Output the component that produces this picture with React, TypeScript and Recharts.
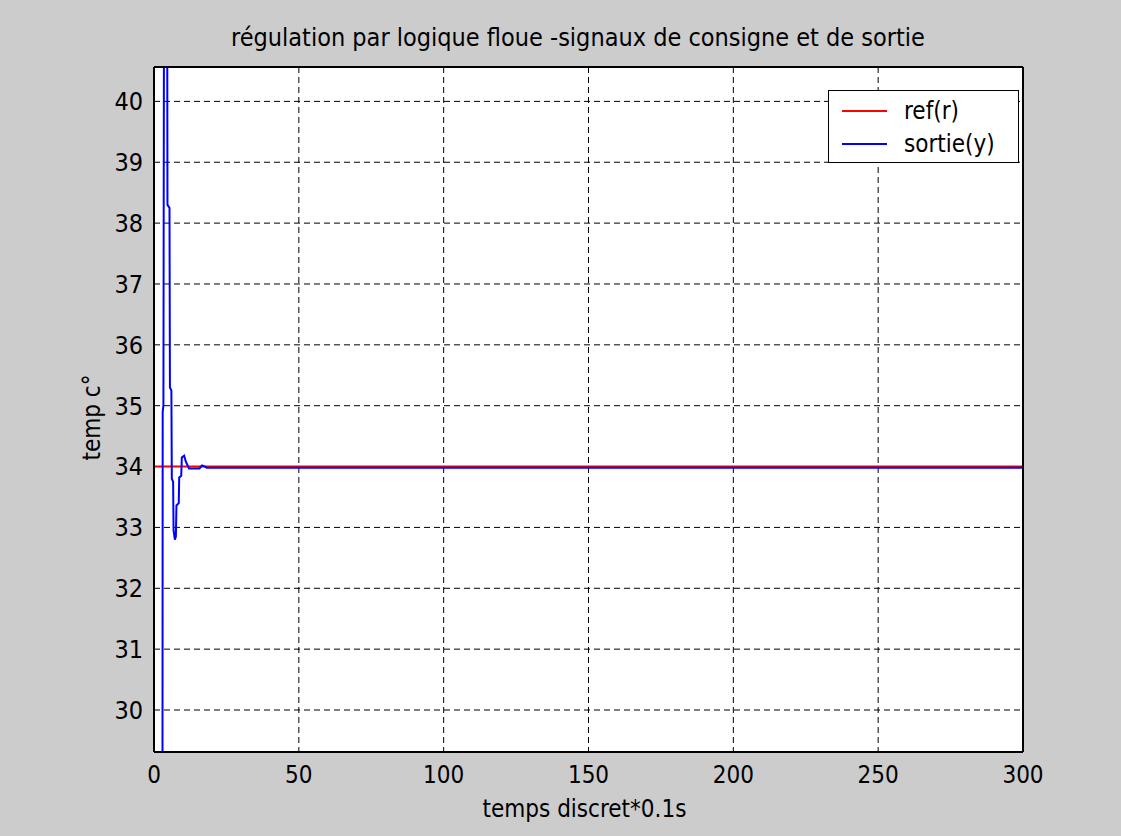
import React from "react"
import {
  LineChart,
  Line,
  XAxis,
  YAxis,
  CartesianGrid,
  Legend,
} from "recharts"

const FONT = "'Liberation Sans Narrow', 'Arial Narrow', 'DejaVu Sans Condensed', sans-serif"

const xTicks = [0, 50, 100, 150, 200, 250, 300]
const yTicks = [30, 31, 32, 33, 34, 35, 36, 37, 38, 39, 40]
const yDomain = [29.31, 40.565]

// consigne
const refTime = [0, 300]
const refValue = [34, 34]

// sortie
const sortieTime = [
  0, 2.6, 3.0, 3.25, 4.0, 4.65, 5.35, 5.5, 6.0, 6.15, 6.6, 6.75, 7.2, 7.55,
  7.75, 8.55, 8.7, 9.4, 9.6, 10.4, 11.0, 12.1, 15.7, 16.6, 17.6, 18.2, 300,
]
const sortieValue = [
  0, 0, 34.9, 35.0, 60, 38.3, 38.25, 35.3, 35.25, 33.8, 33.75, 32.95, 32.8,
  32.85, 33.36, 33.4, 33.82, 33.85, 34.15, 34.18, 34.08, 33.97, 33.97, 34.02,
  34.0, 33.98, 33.98,
]

const refData = refTime.map((t, i) => ({ t, v: refValue[i] }))
const sortieData = sortieTime.map((t, i) => ({ t, v: sortieValue[i] }))

function LegendBox({ payload }: any) {
  if (!payload) return null
  return (
    <div
      style={{
        width: 189,
        height: 71,
        background: "#fff",
        border: "1px solid #000",
        position: "relative",
        fontFamily: FONT,
        fontSize: 24,
        color: "#000",
      }}
    >
      {payload.map((entry: any, i: number) => (
        <div
          key={i}
          style={{
            position: "absolute",
            left: 0,
            top: 4 + i * 33,
            height: 32,
            display: "flex",
            alignItems: "center",
          }}
        >
          <span
            style={{
              display: "inline-block",
              marginLeft: 13,
              width: 45,
              height: 2,
              background: entry.color,
            }}
          />
          <span style={{ marginLeft: 17 }}>{entry.value}</span>
        </div>
      ))}
    </div>
  )
}

export default function App() {
  return (
    <div
      style={{
        position: "absolute",
        left: 0,
        top: 0,
        width: 1121,
        height: 836,
        background: "#cccccc",
      }}
    >
      <div
        style={{
          position: "absolute",
          left: 0,
          top: 23,
          width: 1156,
          textAlign: "center",
          fontFamily: FONT,
          fontSize: 25,
          color: "#000",
          lineHeight: "30px",
        }}
      >
        régulation par logique floue -signaux de consigne et de sortie
      </div>
      <LineChart
        width={1121}
        height={836}
        margin={{ top: 67, right: 98, left: 0, bottom: 0 }}
      >
        <CartesianGrid
          xAxisId="b"
          yAxisId="l"
          stroke="#000"
          strokeDasharray="6 4"
          fill="#fff"
          fillOpacity={1}
        />
        <XAxis
          xAxisId="b"
          dataKey="t"
          type="number"
          domain={[0, 300]}
          ticks={xTicks}
          allowDataOverflow
          orientation="bottom"
          height={84}
          tickSize={0}
          tickLine={false}
          tickMargin={14}
          axisLine={{ stroke: "#000", strokeWidth: 2 }}
          tick={{ fill: "#000", fontFamily: FONT, fontSize: 24 }}
          label={{
            content: ({ viewBox }: any) => (
              <text
                x={viewBox.x + viewBox.width / 2 - 4}
                y={viewBox.y + 65}
                textAnchor="middle"
                fontFamily={FONT}
                fontSize={24}
                fill="#000"
              >
                temps discret*0.1s
              </text>
            ),
          }}
        />
        <XAxis
          xAxisId="bIn"
          type="number"
          domain={[0, 300]}
          ticks={xTicks}
          allowDataOverflow
          orientation="bottom"
          mirror
          tick={false}
          tickSize={9}
          axisLine={false}
          tickLine={{ stroke: "#000", strokeWidth: 2 }}
        />
        <XAxis
          xAxisId="top"
          type="number"
          domain={[0, 300]}
          ticks={xTicks}
          allowDataOverflow
          orientation="top"
          mirror
          tick={false}
          tickSize={9}
          axisLine={{ stroke: "#000", strokeWidth: 2 }}
          tickLine={{ stroke: "#000", strokeWidth: 2 }}
        />
        <YAxis
          yAxisId="l"
          type="number"
          domain={yDomain}
          ticks={yTicks}
          allowDataOverflow
          width={154}
          tickSize={0}
          tickLine={false}
          tickMargin={11}
          axisLine={{ stroke: "#000", strokeWidth: 2 }}
          tick={{ fill: "#000", fontFamily: FONT, fontSize: 25 }}
          label={{
            content: ({ viewBox }: any) => {
              const cx = viewBox.x + 92
              const cy = viewBox.y + viewBox.height / 2 + 8
              return (
                <text
                  x={cx}
                  y={cy}
                  transform={`rotate(-90 ${cx} ${cy})`}
                  textAnchor="middle"
                  dominantBaseline="central"
                  fontFamily={FONT}
                  fontSize={24}
                  fill="#000"
                >
                  temp c°
                </text>
              )
            },
          }}
        />
        <YAxis
          yAxisId="lIn"
          type="number"
          domain={yDomain}
          ticks={yTicks}
          allowDataOverflow
          orientation="left"
          mirror
          tick={false}
          tickSize={9}
          axisLine={false}
          tickLine={{ stroke: "#000", strokeWidth: 2 }}
        />
        <YAxis
          yAxisId="r"
          type="number"
          domain={yDomain}
          ticks={yTicks}
          allowDataOverflow
          orientation="right"
          mirror
          tick={false}
          tickSize={9}
          axisLine={{ stroke: "#000", strokeWidth: 2 }}
          tickLine={{ stroke: "#000", strokeWidth: 2 }}
        />
        <Legend
          layout="vertical"
          align="center"
          verticalAlign="middle"
          wrapperStyle={{ left: 828, top: 90, width: 191, height: 73 }}
          content={<LegendBox />}
        />
        <Line
          xAxisId="b"
          yAxisId="l"
          data={refData}
          dataKey="v"
          name="ref(r)"
          stroke="#ff0000"
          strokeWidth={2}
          dot={false}
          type="linear"
          isAnimationActive={false}
        />
        <Line
          xAxisId="b"
          yAxisId="l"
          data={sortieData}
          dataKey="v"
          name="sortie(y)"
          stroke="#0000ff"
          strokeWidth={2}
          dot={false}
          type="linear"
          isAnimationActive={false}
        />
      </LineChart>
    </div>
  )
}
